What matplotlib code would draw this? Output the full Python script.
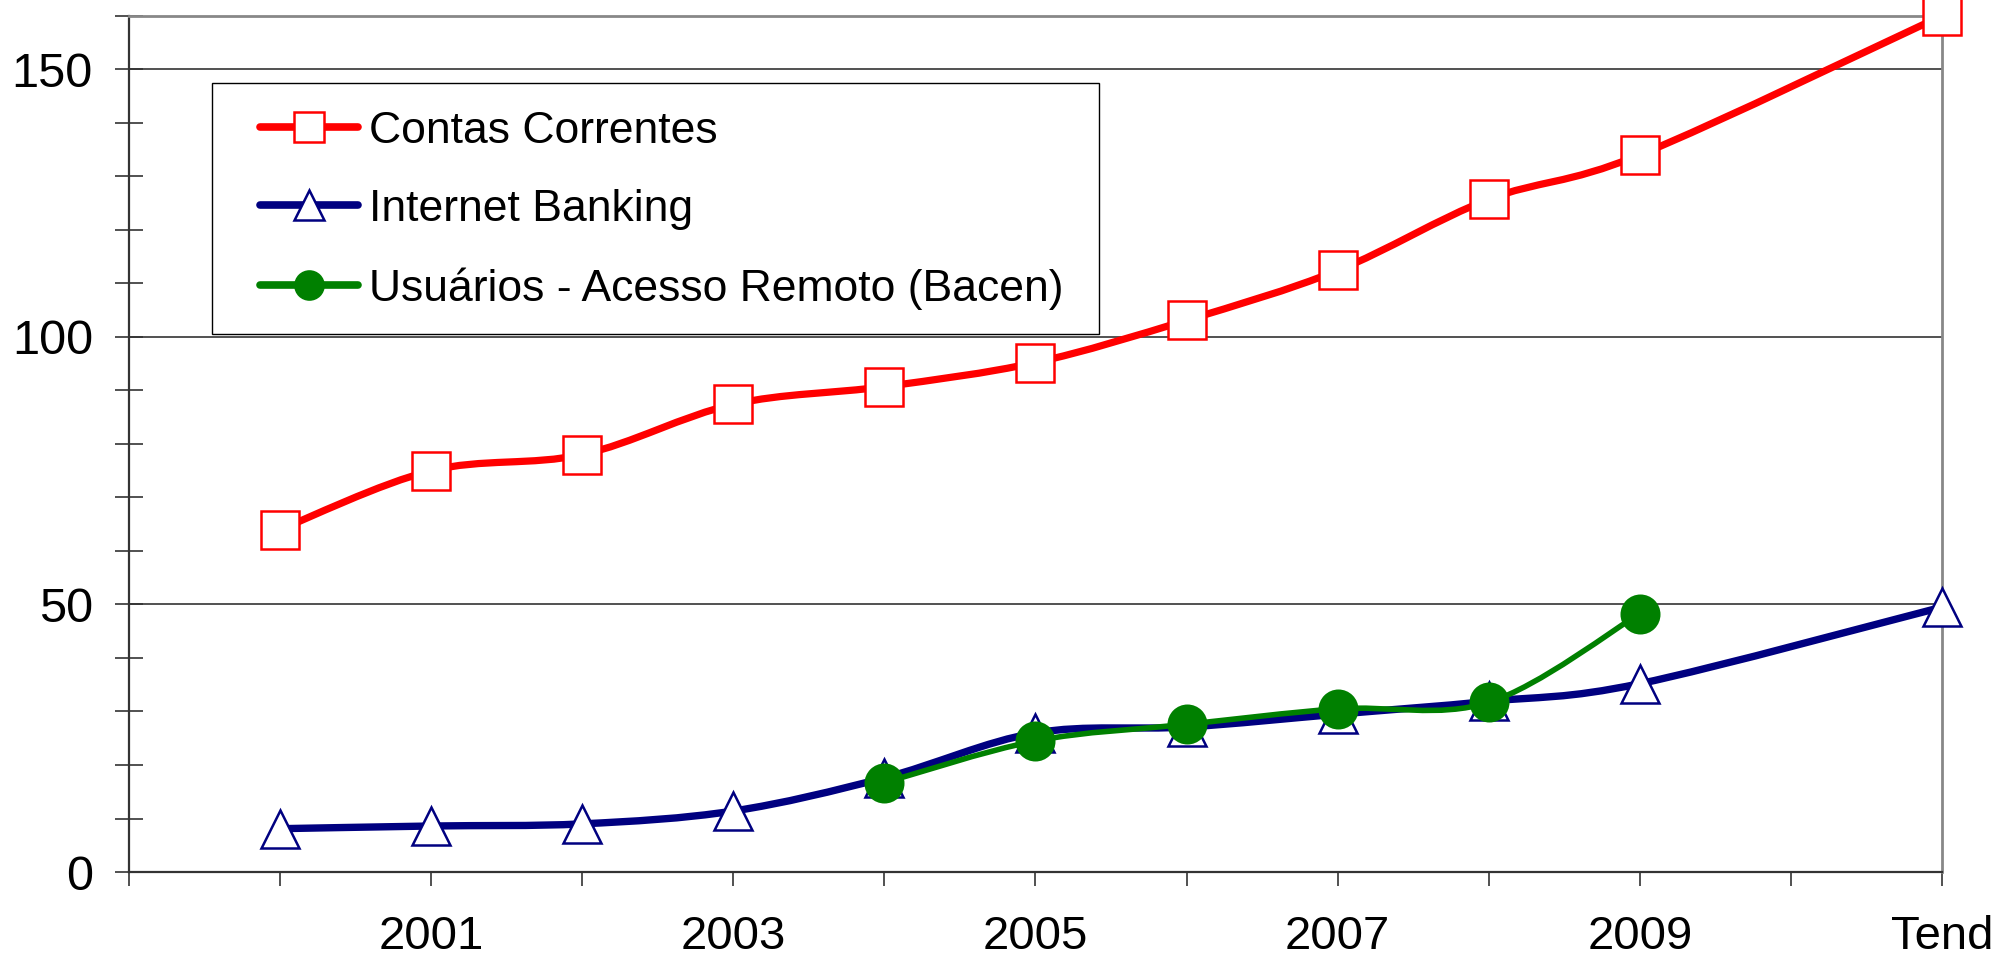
import numpy as np
import matplotlib
matplotlib.use("Agg")
import matplotlib.pyplot as plt
from matplotlib.path import Path
from matplotlib.patches import PathPatch, Rectangle
from matplotlib.lines import Line2D
from matplotlib.ticker import MultipleLocator

plt.rcParams['font.family'] = ['Liberation Sans', 'DejaVu Sans']

# categories on the x axis (2010 has no point, only a slot)
categories = ['2000', '2001', '2002', '2003', '2004', '2005', '2006',
              '2007', '2008', '2009', '2010', 'Tend']
tick_labels = ['', '2001', '', '2003', '', '2005', '', '2007', '', '2009', '', 'Tend']

contas = [64, 75, 78, 87.4, 90.7, 95.2, 103.1, 112.4, 125.7, 134, None, 160]
internet = [8.1, 8.6, 9.0, 11.4, 17.6, 26, 27.1, 29.5, 31.9, 35.2, None, 49.5]
usuarios = [None, None, None, None, 16.7, 24.5, 27.6, 30.5, 31.7, 48.3, None, None]

series = [
    ('Contas Correntes', contas, '#FF0000', 5.2, 's', 28, 'white'),
    ('Internet Banking', internet, '#000080', 5.3, '^', 28, 'white'),
    ('Usuários - Acesso Remoto (Bacen)', usuarios, '#008000', 4.0, 'o', 27, '#008000'),
]


def smooth_path(xs, ys):
    # Excel-like smoothed line: Catmull-Rom segments as cubic Beziers
    pts = list(zip(xs, ys))
    verts = [pts[0]]
    codes = [Path.MOVETO]
    for i in range(len(pts) - 1):
        p0 = pts[i - 1] if i > 0 else pts[i]
        p1 = pts[i]
        p2 = pts[i + 1]
        p3 = pts[i + 2] if i + 2 < len(pts) else p2
        c1 = (p1[0] + (p2[0] - p0[0]) / 6, p1[1] + (p2[1] - p0[1]) / 6)
        c2 = (p2[0] - (p3[0] - p1[0]) / 6, p2[1] - (p3[1] - p1[1]) / 6)
        verts += [c1, c2, p2]
        codes += [Path.CURVE4] * 3
    return Path(verts, codes)


fig = plt.figure(figsize=(20, 9.64), dpi=100)
ax = fig.add_axes([0.0645, 0.0954, 0.9065, 0.8883])

handles = []
for z, (name, vals, color, lw, mk, ms, mfc) in enumerate(series):
    xs = [i for i, v in enumerate(vals) if v is not None]
    ys = [v for v in vals if v is not None]
    patch = PathPatch(smooth_path(xs, ys), fill=False, edgecolor=color, lw=lw,
                      capstyle='round', joinstyle='round', zorder=3 + 2 * z)
    ax.add_patch(patch)
    ax.plot(xs, ys, linestyle='none', marker=mk, markersize=ms,
            markerfacecolor=mfc, markeredgecolor=color, markeredgewidth=1.8,
            zorder=4 + 2 * z, clip_on=False)
    handles.append(Line2D([], [], color=color, lw=5.5, marker=mk, markersize=ms * 0.75,
                          markerfacecolor=mfc, markeredgecolor=color,
                          markeredgewidth=1.8, solid_capstyle='round'))

ax.set_xlim(-1, 11)
ax.set_ylim(0, 160)

ax.set_xticks(range(-1, 12))
ax.set_xticklabels([''] + tick_labels)
ax.tick_params(axis='x', direction='out', length=10, width=1.2, color='#333333',
               labelsize=34, pad=21)

ax.set_yticks([0, 50, 100, 150])
ax.yaxis.set_minor_locator(MultipleLocator(10))
ax.tick_params(axis='y', which='both', direction='inout', length=20, width=1.2,
               color='#333333', labelsize=35, pad=16)

ax.yaxis.grid(True, which='major', color='#222222', lw=1.1)
ax.set_axisbelow(True)

for side in ['left', 'bottom']:
    ax.spines[side].set_color('#333333')
    ax.spines[side].set_linewidth(1.6)
for side in ['top', 'right']:
    ax.spines[side].set_color('#888888')
    ax.spines[side].set_linewidth(2)

# legend frame drawn separately so the inner padding can match
frame = Rectangle((0.0458, 0.6283), 0.4895, 0.2931, transform=ax.transAxes,
                  facecolor='white', edgecolor='black', lw=1.0, zorder=9)
ax.add_patch(frame)
leg = ax.legend(handles, [s[0] for s in series], loc='center left',
                bbox_to_anchor=(0.0723, 0.773), fontsize=32, frameon=False,
                handlelength=2.2, handletextpad=0.24, labelspacing=0.84,
                borderpad=0, borderaxespad=0)
leg.set_zorder(10)

fig.savefig('out.png', dpi=100)
